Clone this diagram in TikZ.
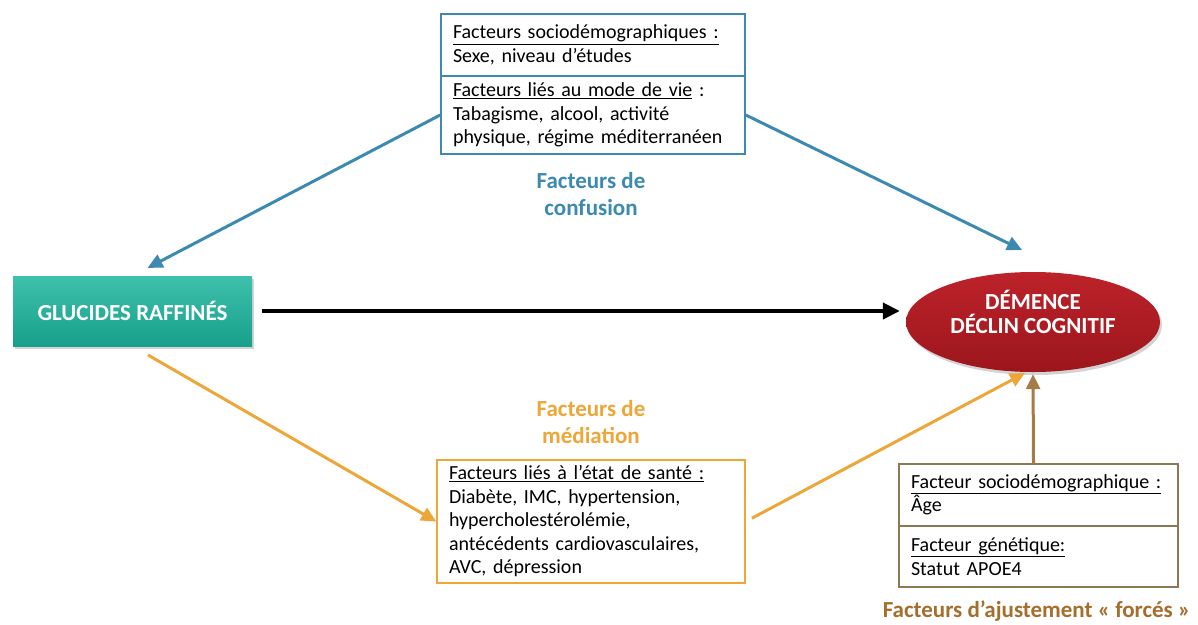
\documentclass[tikz,border=0pt]{standalone}
\usepackage{fontspec}
\setmainfont{Carlito}
\frenchspacing
\usetikzlibrary{arrows.meta,shadows,calc,shapes.geometric}
\definecolor{cblue}{HTML}{3C89B2}
\definecolor{corange}{HTML}{EDA638}
\definecolor{cbrown}{HTML}{A67B45}
\definecolor{cbrowntxt}{HTML}{A66E2C}
\definecolor{cboxbrown}{HTML}{8C7852}
\definecolor{ctealtop}{HTML}{3EC0AC}
\definecolor{ctealbot}{HTML}{17A08B}
\definecolor{credtop}{HTML}{BD222A}
\definecolor{credbot}{HTML}{9C161C}
\tikzset{
  txtbox/.style={draw, line width=1.5pt, fill=white, align=left, inner xsep=12pt, inner ysep=0pt,
    font=\fontsize{20}{23.5}\selectfont, anchor=center},
  lbl/.style={align=center, font=\bfseries\fontsize{23}{27}\selectfont},
  arr/.style={line width=3pt, -{Triangle[length=15pt,width=14pt]}},
}
\begin{document}
\begin{tikzpicture}[x=1pt,y=-1pt]
\useasboundingbox (0,0) rectangle (1198,624);

% top confusion boxes
\node[txtbox, draw=cblue, text width=280pt, minimum height=62pt] (conf1) at (593,45)
  {\underline{Facteurs sociodémographiques :}\\Sexe, niveau d’études};
\node[txtbox, draw=cblue, text width=280pt, minimum height=78pt] (conf2) at (593,115)
  {\underline{Facteurs liés au mode de vie} :\\Tabagisme, alcool, activité\\physique, régime méditerranéen};

% main nodes
\node[draw=none, top color=ctealtop, bottom color=ctealbot, minimum width=239pt, minimum height=70pt,
  text=white, font=\bfseries\fontsize{23}{26}\selectfont,
  drop shadow={shadow xshift=2pt, shadow yshift=-3pt, opacity=0.35}] (gl) at (132.5,311) {GLUCIDES RAFFINÉS};
\node[ellipse, draw=none, top color=credtop, bottom color=credbot, minimum width=254pt, minimum height=100pt,
  text=white, align=center, font=\bfseries\fontsize{23}{24}\selectfont, text depth=20pt,
  drop shadow={shadow xshift=2pt, shadow yshift=-3pt, opacity=0.35}] (ell) at (1033,322) {DÉMENCE\\DÉCLIN COGNITIF};

% mediation box
\node[txtbox, draw=corange, text width=284pt, minimum height=123pt] (med) at (591,521.5)
  {\underline{Facteurs liés à l’état de santé :}\\Diabète, IMC, hypertension,\\hypercholestérolémie,\\antécédents cardiovasculaires,\\AVC, dépression};

% adjustment boxes
\node[txtbox, draw=cboxbrown, text width=255pt, minimum height=62pt] (adj1) at (1038.5,495)
  {\underline{Facteur sociodémographique :}\\Âge};
\node[txtbox, draw=cboxbrown, text width=255pt, minimum height=61pt] (adj2) at (1038.5,556.5)
  {\underline{Facteur génétique:}\\Statut APOE4};

% labels
\node[lbl, text=cblue] (lconf) at (591,194) {Facteurs de\\confusion};
\node[lbl, text=corange] (lmed) at (591,422) {Facteurs de\\médiation};
\node[lbl, text=cbrowntxt, anchor=east] (ladj) at (1194,611) {Facteurs d’ajustement « forcés »};

% coordinates for free ends
\coordinate (confEnd) at (1022,250);
\coordinate (medStart) at (148,355);
\coordinate (medEnd) at (1025,373);

% connectors
\draw[line width=4pt, -{Triangle[length=17pt,width=16pt]}, shorten <=10pt, shorten >=6pt] (gl.east) -- ([yshift=11pt]ell.west);
\draw[arr, draw=cblue, shorten >=17pt] (conf2.west) -- (gl.north);
\draw[arr, draw=cblue] (conf2.east) -- (confEnd);
\draw[arr, draw=corange] (medStart) -- (med.west);
\draw[arr, draw=corange, shorten <=7pt] (med.east) -- (medEnd);
\draw[arr, draw=cbrown, shorten >=2pt] ([xshift=-5pt]adj1.north) -- (ell.south);
\end{tikzpicture}
\end{document}
